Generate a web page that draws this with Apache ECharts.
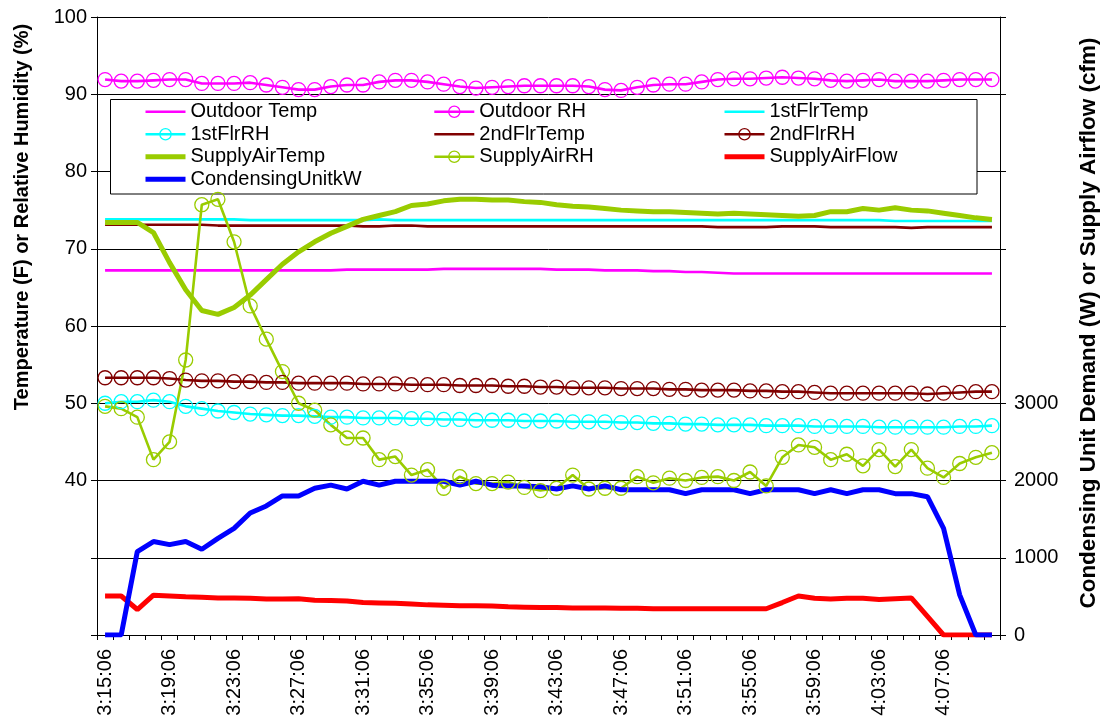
<!DOCTYPE html>
<html>
<head>
<meta charset="utf-8">
<script src="https://cdn.jsdelivr.net/npm/echarts@6/dist/echarts.min.js"></script>
<style>
  html, body { margin: 0; padding: 0; background: #ffffff; }
  #chart { width: 1106px; height: 727px; }
</style>
</head>
<body>
<div id="chart"></div>
<script>
// Sample times, one per minute
const times = [
  '3:15:06','3:16:06','3:17:06','3:18:06','3:19:06','3:20:06','3:21:06','3:22:06',
  '3:23:06','3:24:06','3:25:06','3:26:06','3:27:06','3:28:06','3:29:06','3:30:06',
  '3:31:06','3:32:06','3:33:06','3:34:06','3:35:06','3:36:06','3:37:06','3:38:06',
  '3:39:06','3:40:06','3:41:06','3:42:06','3:43:06','3:44:06','3:45:06','3:46:06',
  '3:47:06','3:48:06','3:49:06','3:50:06','3:51:06','3:52:06','3:53:06','3:54:06',
  '3:55:06','3:56:06','3:57:06','3:58:06','3:59:06','4:00:06','4:01:06','4:02:06',
  '4:03:06','4:04:06','4:05:06','4:06:06','4:07:06','4:08:06','4:09:06','4:10:06'
];

// Temperatures (F) and relative humidities (%) - left axis
const outdoorTemp = [
  67.2,67.2,67.2,67.2,67.2,67.2,67.2,67.2,67.2,67.2,67.2,67.2,67.2,67.2,67.2,67.3,
  67.3,67.3,67.3,67.3,67.3,67.4,67.4,67.4,67.4,67.4,67.4,67.4,67.3,67.3,67.3,67.2,
  67.2,67.2,67.1,67.1,67.0,67.0,66.9,66.8,66.8,66.8,66.8,66.8,66.8,66.8,66.8,66.8,
  66.8,66.8,66.8,66.8,66.8,66.8,66.8,66.8
];
const outdoorRH = [
  91.9,91.7,91.7,91.8,91.9,91.9,91.4,91.4,91.4,91.5,91.2,90.9,90.6,90.6,91.0,91.2,
  91.2,91.6,91.8,91.8,91.6,91.3,91.0,90.8,90.9,91.0,91.1,91.1,91.1,91.1,91.0,90.6,
  90.5,90.9,91.2,91.3,91.3,91.6,91.9,92.0,92.0,92.1,92.2,92.1,92.0,91.8,91.7,91.8,
  91.9,91.7,91.7,91.7,91.8,91.9,91.9,91.9
];
const firstFlrTemp = [
  73.8,73.8,73.8,73.8,73.8,73.8,73.8,73.8,73.8,73.7,73.7,73.7,73.7,73.7,73.7,73.7,
  73.7,73.8,73.7,73.7,73.7,73.7,73.7,73.7,73.7,73.7,73.7,73.7,73.7,73.7,73.7,73.7,
  73.7,73.7,73.7,73.7,73.7,73.7,73.7,73.7,73.7,73.7,73.7,73.7,73.7,73.7,73.7,73.7,
  73.7,73.6,73.6,73.6,73.6,73.6,73.6,73.6
];
const firstFlrRH = [
  50.0,50.2,50.2,50.4,50.2,49.6,49.3,49.0,48.8,48.6,48.5,48.4,48.4,48.3,48.2,48.2,
  48.1,48.1,48.1,48.0,48.0,47.9,47.9,47.8,47.8,47.8,47.7,47.7,47.7,47.6,47.6,47.6,
  47.5,47.5,47.4,47.4,47.3,47.3,47.2,47.2,47.2,47.1,47.1,47.1,47.0,47.0,47.0,47.0,
  46.9,46.9,46.9,46.9,46.9,47.0,47.0,47.1
];
const secondFlrTemp = [
  73.1,73.1,73.1,73.1,73.1,73.1,73.1,73.0,73.0,73.0,73.0,73.0,73.0,73.0,73.0,73.0,
  72.9,72.9,73.0,73.0,72.9,72.9,72.9,72.9,72.9,72.9,72.9,72.9,72.9,72.9,72.9,72.9,
  72.9,72.9,72.9,72.9,72.9,72.9,72.8,72.8,72.8,72.8,72.9,72.9,72.9,72.8,72.8,72.8,
  72.8,72.8,72.7,72.8,72.8,72.8,72.8,72.8
];
const secondFlrRH = [
  53.3,53.3,53.3,53.3,53.2,53.0,52.9,52.9,52.8,52.8,52.7,52.7,52.6,52.6,52.6,52.6,
  52.5,52.5,52.5,52.4,52.4,52.4,52.3,52.3,52.3,52.2,52.2,52.1,52.1,52.0,52.0,52.0,
  51.9,51.9,51.9,51.8,51.8,51.7,51.7,51.7,51.6,51.6,51.5,51.5,51.4,51.3,51.3,51.3,
  51.3,51.3,51.3,51.2,51.3,51.4,51.5,51.5
];
const supplyAirTemp = [
  73.4,73.4,73.4,72.1,68.2,64.7,62.0,61.5,62.4,64.0,66.0,68.0,69.6,70.9,72.0,72.9,
  73.8,74.3,74.8,75.6,75.8,76.2,76.4,76.4,76.3,76.3,76.1,76.0,75.7,75.5,75.4,75.2,
  75.0,74.9,74.8,74.8,74.7,74.6,74.5,74.6,74.5,74.4,74.3,74.2,74.3,74.8,74.8,75.2,
  75.0,75.3,75.0,74.9,74.6,74.3,74.0,73.8
];
const supplyAirRH = [
  49.6,49.3,48.2,42.7,45.0,55.6,75.7,76.4,70.9,62.6,58.3,54.1,50.0,49.1,47.2,45.5,
  45.5,42.7,43.1,40.7,41.4,39.0,40.5,39.6,39.6,39.8,39.1,38.7,39.0,40.7,38.9,39.0,
  39.0,40.5,39.7,40.3,40.0,40.4,40.5,40.0,41.1,39.3,43.0,44.6,44.3,42.7,43.4,41.9,
  44.0,41.8,44.0,41.6,40.4,42.2,43.0,43.6
];

// Supply airflow (cfm) and condensing unit demand (W) - right axis
const supplyAirFlow = [
  505,505,330,515,505,495,490,480,480,475,465,465,470,450,445,440,
  420,415,410,400,390,385,380,380,375,365,360,355,355,350,350,350,
  345,345,340,340,340,340,340,340,340,340,420,505,475,465,475,475,
  460,470,480,240,0,0,0,0
];
const condensingUnitW = [
  0,0,1080,1210,1170,1210,1110,1250,1380,1580,1670,1800,1800,1900,1940,1890,
  1990,1940,1990,1990,1990,1990,1940,1990,1940,1930,1930,1920,1890,1930,1890,1930,
  1880,1880,1880,1880,1830,1880,1880,1880,1830,1880,1880,1880,1830,1880,1830,1880,
  1880,1830,1830,1790,1380,520,0,0
];

const leftTicksShown = [40, 50, 60, 70, 80, 90, 100];
const rightTicksShown = [0, 1000, 2000, 3000];

const FONT = '"Liberation Sans", Arial, sans-serif';

// Stroke widths per series, shared by plot lines and legend keys
const strokeWidth = {
  'Outdoor Temp': 2.6, 'Outdoor RH': 2.6, '1stFlrTemp': 2.6, '1stFlrRH': 2.6,
  '2ndFlrTemp': 2.6, '2ndFlrRH': 2.6, 'SupplyAirTemp': 5, 'SupplyAirRH': 2.6,
  'SupplyAirFlow': 5, 'CondensingUnitkW': 5
};
const ringedNames = ['Outdoor RH', '1stFlrRH', '2ndFlrRH', 'SupplyAirRH'];

// Plain line: the marker is made invisible so the legend shows only the stroke
function plain(name, data, color, axis) {
  return {
    name, type: 'line', data, yAxisIndex: axis,
    symbol: 'circle', symbolSize: 0, showSymbol: false,
    color: color,
    lineStyle: { color: color, width: strokeWidth[name] },
    itemStyle: { color: 'rgba(0,0,0,0)', borderWidth: 0 },
    emphasis: { disabled: true },
    animation: false
  };
}
// Line with a hollow ring at every sample
function ringed(name, data, color) {
  return {
    name, type: 'line', data, yAxisIndex: 0,
    symbol: 'circle', symbolSize: 14, showSymbol: true, showAllSymbol: true,
    color: color,
    lineStyle: { color: color, width: strokeWidth[name] },
    itemStyle: { color: 'rgba(255,255,255,0)', borderColor: color, borderWidth: 1.3 },
    emphasis: { disabled: true },
    animation: false
  };
}

function legendItem(name) {
  const item = { name, lineStyle: { width: strokeWidth[name] } };
  if (ringedNames.indexOf(name) >= 0) {
    item.itemStyle = { borderWidth: 1.3, color: 'rgba(255,255,255,0)' };
  }
  return item;
}

const chart = echarts.init(document.getElementById('chart'), null, { renderer: 'canvas' });

const legendBase = {
  orient: 'vertical', padding: 0, itemGap: 0,
  itemWidth: 40, itemHeight: 14, top: 100.5,
  textStyle: { fontFamily: FONT, fontSize: 20, color: '#000', lineHeight: 22.5 },
  selectedMode: false
};

chart.setOption({
  backgroundColor: '#ffffff',
  animation: false,
  grid: { left: 97, right: 106, top: 17, bottom: 92, containLabel: false },
  graphic: [
    {
      type: 'rect', z: 1,
      shape: { x: 110.5, y: 99.5, width: 866.5, height: 94.5 },
      style: { fill: '#ffffff', stroke: '#000000', lineWidth: 1 }
    },
    {
      type: 'text', z: 5, x: 22, y: 217, rotation: Math.PI / 2,
      style: {
        text: 'Temperature (F) or Relative Humidity (%)',
        font: 'bold 20px ' + FONT, fill: '#000',
        align: 'center', verticalAlign: 'middle'
      }
    },
    {
      type: 'text', z: 5, x: 1089, y: 323, rotation: Math.PI / 2,
      style: {
        text: 'Condensing Unit Demand (W) or Supply Airflow (cfm)',
        font: 'bold 22.5px ' + FONT, fill: '#000',
        align: 'center', verticalAlign: 'middle'
      }
    }
  ],
  legend: [
    Object.assign({}, legendBase, { left: 143, data: ['Outdoor Temp', '1stFlrRH', 'SupplyAirTemp', 'CondensingUnitkW'].map(legendItem) }),
    Object.assign({}, legendBase, { left: 433, data: ['Outdoor RH', '2ndFlrTemp', 'SupplyAirRH'].map(legendItem) }),
    Object.assign({}, legendBase, { left: 722, data: ['1stFlrTemp', '2ndFlrRH', 'SupplyAirFlow'].map(legendItem) })
  ],
  xAxis: {
    type: 'category', data: times, boundaryGap: true,
    axisLine: { show: true, lineStyle: { color: '#000', width: 1 } },
    axisTick: { show: true, interval: 0, length: 5, inside: false, lineStyle: { color: '#000' } },
    axisLabel: {
      interval: 3, rotate: 90, margin: 14,
      fontFamily: FONT, fontSize: 20, color: '#000'
    },
    splitLine: { show: false }
  },
  yAxis: [
    {
      type: 'value', min: 20, max: 100, interval: 10, position: 'left',
      axisLine: { show: true, lineStyle: { color: '#000', width: 1 } },
      axisTick: { show: true, length: 6, lineStyle: { color: '#000' } },
      axisLabel: {
        margin: 10, fontFamily: FONT, fontSize: 20, color: '#000',
        formatter: v => (leftTicksShown.indexOf(v) >= 0 ? String(v) : '')
      },
      splitLine: { show: true, lineStyle: { color: '#000', width: 1 } }
    },
    {
      type: 'value', min: 0, max: 8000, interval: 1000, position: 'right',
      axisLine: { show: true, lineStyle: { color: '#000', width: 1 } },
      axisTick: { show: true, length: 6, lineStyle: { color: '#000' } },
      axisLabel: {
        margin: 14, fontFamily: FONT, fontSize: 20, color: '#000',
        formatter: v => (rightTicksShown.indexOf(v) >= 0 ? String(v) : '')
      },
      splitLine: { show: false }
    }
  ],
  series: [
    plain('Outdoor Temp', outdoorTemp, '#FF00FF', 0),
    ringed('Outdoor RH', outdoorRH, '#FF00FF'),
    plain('1stFlrTemp', firstFlrTemp, '#00FFFF', 0),
    ringed('1stFlrRH', firstFlrRH, '#00FFFF'),
    plain('2ndFlrTemp', secondFlrTemp, '#800000', 0),
    ringed('2ndFlrRH', secondFlrRH, '#800000'),
    plain('SupplyAirTemp', supplyAirTemp, '#99CC00', 0),
    ringed('SupplyAirRH', supplyAirRH, '#99CC00'),
    plain('SupplyAirFlow', supplyAirFlow, '#FF0000', 1),
    plain('CondensingUnitkW', condensingUnitW, '#0000FF', 1)
  ]
});
</script>
</body>
</html>
